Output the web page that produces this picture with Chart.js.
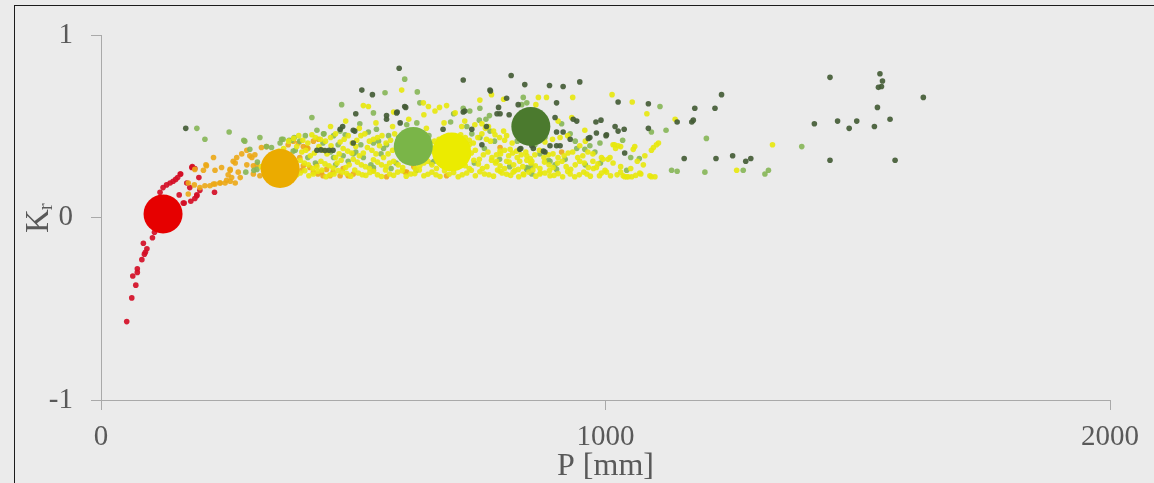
<!DOCTYPE html>
<html>
<head>
<meta charset="utf-8">
<script src="https://cdn.jsdelivr.net/npm/chart.js@4/dist/chart.umd.min.js"></script>
<style>
  html, body { margin: 0; padding: 0; background: #ebebeb; width: 1154px; height: 483px; overflow: hidden; }
  #frame { position: absolute; left: 14px; top: 5px; width: 1200px; height: 520px;
           border-left: 1.5px solid #1c1c1c; border-top: 1.5px solid #1c1c1c; }
  #plot { position: absolute; left: 0; top: 0; }
</style>
</head>
<body>
<div id="frame"></div>
<canvas id="plot" width="1154" height="483"></canvas>
<script>
// Axis ticks
const xTickValues = [0, 1000, 2000];
const xTickLabels = ['0', '1000', '2000'];
const yTickValues = [-1, 0, 1];
const yTickLabels = ['-1', '0', '1'];

// Group means (P [mm], Kr)
const groupNames = ['red', 'orange', 'lightgreen', 'yellow', 'darkgreen'];
const groupMeanP = [123, 355, 619, 695, 852];
const groupMeanK = [0.02, 0.27, 0.39, 0.36, 0.50];

// Individual stations per group: [P, Kr]
const redPoints = [
  [51,-0.57],[61,-0.44],[63,-0.32],[69,-0.37],[72,-0.30],[72,-0.28],[81,-0.23],[86,-0.20],
  [88,-0.19],[84,-0.14],[91,-0.17],[102,-0.11],[106,-0.08],[112,-0.05],[117,0.14],[123,0.165],
  [130,0.18],[137,0.19],[143,0.20],[148,0.21],[158,0.24],[170,0.19],[155,0.125],[165,0.08],
  [178,0.09],[181,0.28],[186,0.105],[190,0.125],[196,0.15],[225,0.14],[176,0.165],[180,0.275],
  [157,0.24],[190,0.12],[163,0.08],[194,0.22],[152,0.22],[186,0.27]
];
const orangePoints = [
  [173,0.13],[185,0.18],[196,0.165],[206,0.175],[216,0.175],[226,0.185],[236,0.19],[246,0.19],
  [256,0.20],[266,0.19],[209,0.285],[223,0.33],[239,0.275],[256,0.265],[262,0.31],[269,0.33],
  [279,0.35],[289,0.37],[259,0.22],[252,0.235],[289,0.29],[299,0.33],[309,0.29],[318,0.385],
  [328,0.39],[394,0.33],[401,0.39],[410,0.38],[421,0.25],[430,0.24],[454,0.23],[474,0.23],
  [490,0.23],[566,0.225],[603,0.25],[315,0.23],[302,0.24],[208,0.29],[266,0.30],[295,0.34],
  [305,0.345],[302,0.285],[256,0.26],[272,0.25],[276,0.22],[249,0.205],[236,0.19],[223,0.185],
  [186,0.265],[203,0.26],[226,0.26],[173,0.19],[398,0.26],[401,0.285],[414,0.275],[427,0.29],
  [437,0.25],[447,0.265],[391,0.41],[408,0.385],[421,0.42],[431,0.43],[381,0.42],[371,0.40],
  [440,0.23],[460,0.25],[480,0.27],[500,0.24],[685,0.23],[791,0.385],[913,0.36],[606,0.25],
  [540,0.26],[620,0.28]
];
const lightGreenPoints = [
  [190,0.49],[206,0.43],[254,0.47],[285,0.42],[315,0.44],[358,0.43],[378,0.425],[394,0.42],
  [309,0.265],[418,0.55],[428,0.48],[442,0.46],[461,0.45],[477,0.62],[563,0.685],[540,0.575],
  [513,0.515],[546,0.485],[627,0.69],[602,0.76],[632,0.63],[693,0.525],[699,0.57],[837,0.66],
  [844,0.63],[834,0.62],[913,0.515],[887,0.315],[751,0.60],[969,0.395],[903,0.265],[943,0.38],
  [847,0.27],[750,0.535],[763,0.54],[770,0.56],[1108,0.61],[1200,0.435],[1091,0.47],[1120,0.48],
  [1067,0.325],[1042,0.26],[1131,0.26],[1142,0.255],[1197,0.25],[1273,0.26],[1316,0.24],[1323,0.26],
  [989,0.41],[1389,0.39],[1034,0.425],[283,0.425],[295,0.375],[310,0.305],[287,0.25],[303,0.26],
  [328,0.39],[338,0.385],[355,0.41],[361,0.43],[373,0.425],[383,0.44],[381,0.365],[441,0.46],
  [474,0.475],[484,0.455],[530,0.47],[550,0.42],[566,0.40],[606,0.51],[626,0.52],[520,0.33],
  [500,0.35],[461,0.33],[540,0.275],[718,0.60],[731,0.585],[725,0.50],[771,0.475],[751,0.44],
  [844,0.265],[854,0.24],[890,0.31],[959,0.375],[979,0.36],[930,0.46],[470,0.40],[560,0.38],
  [600,0.32],[650,0.45],[700,0.33],[740,0.30],[780,0.42],[810,0.28],[860,0.40],[880,0.44],
  [920,0.32],[960,0.29],[505,0.36],[480,0.34],[540,0.41],[590,0.44],[635,0.39],[575,0.27],
  [625,0.26],[854,0.285],[844,0.275],
  [345,0.32],[365,0.28],[385,0.37],[410,0.33],[425,0.30],[455,0.36],[490,0.31],[515,0.40],
  [535,0.29],[555,0.35],[585,0.30],[610,0.35],[660,0.31],[690,0.44],[720,0.35],[760,0.38],
  [790,0.32],[825,0.42],[870,0.35],[900,0.29],[940,0.42],[990,0.30],[1050,0.33],[405,0.45],
  [440,0.41],[465,0.29],[570,0.45],[615,0.47],[655,0.30],[735,0.46]
];
const yellowPoints = [
  [520,0.615],[530,0.61],[596,0.70],[639,0.63],[649,0.61],[662,0.585],[671,0.605],[685,0.615],
  [702,0.575],[721,0.53],[1013,0.675],[1053,0.635],[1082,0.57],[1138,0.54],[935,0.66],[933,0.55],
  [959,0.48],[949,0.395],[1015,0.40],[1025,0.395],[992,0.33],[1005,0.32],[1055,0.375],[1095,0.385],
  [1101,0.40],[1063,0.31],[1070,0.24],[1091,0.225],[1098,0.225],[1042,0.225],[1035,0.23],[988,0.23],
  [1002,0.25],[939,0.225],[976,0.27],[906,0.53],[883,0.66],[867,0.66],[862,0.62],[751,0.645],
  [798,0.65],[774,0.675],[741,0.51],[755,0.515],[768,0.50],[778,0.475],[798,0.475],[804,0.45],
  [791,0.365],[811,0.375],[824,0.365],[844,0.34],[784,0.31],[804,0.31],[830,0.31],[854,0.31],
  [791,0.255],[817,0.25],[837,0.24],[870,0.24],[890,0.23],[930,0.24],[963,0.24],[982,0.275],
  [1020,0.38],[1030,0.39],[1018,0.40],[1058,0.39],[1091,0.37],[1105,0.41],[1078,0.34],[995,0.32],
  [1009,0.33],[999,0.26],[1023,0.235],[1038,0.225],[1045,0.225],[1052,0.225],[1088,0.23],[1260,0.26],
  [1331,0.40],
  [330,0.24],[348,0.23],[362,0.25],[380,0.225],[395,0.245],[412,0.23],[430,0.255],[446,0.225],
  [462,0.24],[478,0.25],[495,0.228],[510,0.245],[525,0.232],[540,0.255],[556,0.226],[572,0.24],
  [588,0.25],[605,0.228],[622,0.242],[640,0.23],[656,0.25],[672,0.226],[690,0.238],[708,0.225],
  [725,0.245],[742,0.23],[760,0.24],[778,0.228],[795,0.245],[812,0.232],[828,0.225],[848,0.25],
  [862,0.228],[880,0.245],[898,0.232],[915,0.225],[948,0.235],[970,0.228],[1010,0.23],[1060,0.232],
  [338,0.252],[355,0.238],[372,0.262],[388,0.236],[404,0.258],[421,0.24],[438,0.262],[454,0.236],
  [470,0.258],[487,0.242],[503,0.262],[518,0.236],[533,0.248],[548,0.236],[564,0.262],[580,0.232],
  [597,0.258],[614,0.24],[631,0.262],[648,0.238],[664,0.236],[681,0.258],[699,0.248],[716,0.236],
  [734,0.26],[751,0.252],[769,0.236],[786,0.262],[804,0.238],[820,0.258],[838,0.236],[856,0.262],
  [871,0.246],[889,0.258],[906,0.242],[925,0.254],[957,0.25],[992,0.245],[1030,0.25],[1068,0.245],
  [318,0.28],[335,0.30],[352,0.27],[370,0.31],[386,0.285],[403,0.30],[420,0.27],[436,0.31],
  [452,0.285],[468,0.30],[485,0.275],[500,0.32],[516,0.29],[532,0.27],[548,0.305],[565,0.28],
  [580,0.31],[598,0.275],[615,0.30],[632,0.285],[648,0.31],[665,0.27],[680,0.30],[698,0.285],
  [714,0.31],[730,0.27],[748,0.295],[765,0.28],[782,0.30],[800,0.27],[818,0.29],[836,0.28],
  [852,0.30],[870,0.27],[888,0.29],[905,0.30],[922,0.28],[940,0.29],[958,0.30],[975,0.31],
  [1030,0.28],[1075,0.29],
  [326,0.295],[343,0.275],[360,0.305],[378,0.27],[395,0.315],[411,0.29],[428,0.28],[444,0.295],
  [460,0.272],[476,0.315],[492,0.29],[508,0.305],[524,0.28],[540,0.318],[556,0.29],[572,0.30],
  [589,0.29],[606,0.315],[623,0.27],[640,0.30],[656,0.29],[673,0.315],[689,0.275],[706,0.295],
  [722,0.285],[739,0.315],[756,0.27],[774,0.315],[791,0.285],[809,0.305],[827,0.265],[844,0.315],
  [861,0.285],[879,0.305],[896,0.275],[914,0.31],[931,0.265],[949,0.31],[966,0.275],[985,0.295],
  [1015,0.30],[1050,0.27],
  [345,0.35],[362,0.38],[378,0.33],[398,0.36],[415,0.34],[432,0.39],[448,0.35],[465,0.33],
  [480,0.38],[497,0.355],[512,0.34],[528,0.385],[545,0.35],[560,0.33],[578,0.37],[595,0.345],
  [612,0.335],[628,0.36],[645,0.33],[660,0.37],[676,0.34],[692,0.325],[710,0.36],[726,0.335],
  [742,0.37],[758,0.345],[775,0.33],[792,0.35],[808,0.34],[825,0.33],[842,0.36],[860,0.345],
  [878,0.33],[896,0.35],[918,0.34],[935,0.36],[955,0.34],[975,0.35],
  [353,0.365],[370,0.345],[388,0.39],[406,0.37],[423,0.355],[440,0.37],[456,0.395],[472,0.35],
  [489,0.365],[505,0.39],[520,0.355],[537,0.37],[552,0.395],[569,0.35],[586,0.385],[603,0.36],
  [620,0.385],[637,0.35],[653,0.39],[668,0.33],[684,0.37],[700,0.35],[718,0.325],[734,0.355],
  [750,0.32],[767,0.36],[784,0.345],[800,0.37],[816,0.355],[833,0.345],[851,0.325],[869,0.37],
  [887,0.345],[906,0.33],[926,0.355],[945,0.33],[965,0.36],
  [372,0.42],[392,0.45],[410,0.41],[425,0.44],[445,0.42],[465,0.46],[482,0.43],[498,0.41],
  [515,0.45],[532,0.42],[548,0.44],[565,0.41],[582,0.46],[598,0.43],[615,0.42],[635,0.44],
  [652,0.41],[670,0.43],[688,0.45],[705,0.42],[722,0.44],[738,0.41],[755,0.46],[772,0.42],
  [790,0.44],[815,0.41],[840,0.45],[865,0.42],[895,0.43],[925,0.45],[960,0.42],
  [382,0.435],[400,0.425],[418,0.455],[435,0.43],[455,0.44],[474,0.415],[490,0.45],[507,0.425],
  [523,0.46],[540,0.43],[557,0.45],[574,0.425],[590,0.41],[606,0.45],[625,0.43],[643,0.455],
  [661,0.42],[679,0.44],[697,0.435],[713,0.455],[730,0.425],[747,0.44],[764,0.43],[781,0.455],
  [800,0.425],[828,0.44],[852,0.43],[880,0.415],[910,0.44],
  [455,0.50],[485,0.53],[512,0.49],[545,0.52],[578,0.50],[610,0.54],[645,0.49],[680,0.52],
  [715,0.50],[762,0.49],[820,0.51],[860,0.50],[580,0.58],[640,0.565],
  [660,0.36],[672,0.40],[685,0.42],[700,0.41],[718,0.38],[728,0.34],[705,0.32],[680,0.33],
  [665,0.35],[690,0.30],[715,0.30],[730,0.40]
];
const darkGreenPoints = [
  [168,0.49],[517,0.70],[538,0.675],[505,0.57],[591,0.82],[602,0.61],[586,0.575],[566,0.56],
  [503,0.475],[474,0.485],[428,0.37],[436,0.372],[444,0.368],[452,0.37],[460,0.37],[718,0.755],
  [587,0.58],[604,0.605],[479,0.50],[500,0.48],[500,0.41],[566,0.54],[718,0.58],[678,0.485],
  [593,0.52],[813,0.78],[840,0.73],[889,0.725],[916,0.72],[949,0.745],[771,0.70],[804,0.655],
  [788,0.605],[785,0.57],[791,0.57],[827,0.62],[903,0.63],[1025,0.635],[1085,0.625],[1230,0.675],
  [1177,0.60],[1217,0.60],[981,0.525],[991,0.535],[1019,0.50],[1025,0.475],[1037,0.485],[1085,0.49],
  [1142,0.525],[1171,0.525],[1174,0.535],[943,0.53],[903,0.47],[916,0.47],[930,0.43],[966,0.435],
  [1002,0.455],[1038,0.355],[1156,0.325],[1219,0.325],[1252,0.34],[1278,0.31],[1288,0.325],[834,0.425],
  [830,0.375],[877,0.365],[903,0.395],[1001,0.45],[1445,0.77],[1544,0.79],[1549,0.75],[1547,0.72],
  [1541,0.715],[1539,0.605],[1630,0.66],[1414,0.515],[1460,0.53],[1483,0.49],[1498,0.53],[1533,0.50],
  [1564,0.54],[1445,0.315],[1574,0.315],[772,0.695],[721,0.585],[764,0.50],[900,0.55],[936,0.54],
  [890,0.395],[910,0.395],[880,0.36],[854,0.395],[857,0.38],[832,0.38],[755,0.40],[735,0.485],
  [809,0.565],[969,0.44],[982,0.465]
];

const smallColors = {
  red: 'rgba(212,14,38,0.92)',
  orange: 'rgba(236,168,22,0.9)',
  lightgreen: 'rgba(134,182,86,0.9)',
  yellow: 'rgba(232,232,12,0.9)',
  darkgreen: 'rgba(68,92,54,0.92)'
};
const bigColors = {
  red: '#e60000',
  orange: '#ebab00',
  lightgreen: '#7ab548',
  yellow: '#ebeb00',
  darkgreen: '#4b7a2e'
};

const toXY = arr => arr.map(p => ({ x: p[0], y: p[1] }));

function smallSet(name, pts, order) {
  return {
    label: name, data: toXY(pts), order: order,
    pointRadius: 2.8, pointHoverRadius: 2.8,
    backgroundColor: smallColors[name], borderColor: smallColors[name], borderWidth: 0
  };
}

const datasets = [];
groupNames.forEach((name, i) => {
  datasets.push({
    label: name + ' mean', data: [{ x: groupMeanP[i], y: groupMeanK[i] }], order: 0,
    pointRadius: 19.5, pointHoverRadius: 19.5,
    backgroundColor: bigColors[name], borderColor: bigColors[name], borderWidth: 0
  });
});
datasets.push(smallSet('darkgreen', darkGreenPoints, 1));
datasets.push(smallSet('lightgreen', lightGreenPoints, 3));
datasets.push(smallSet('yellow', yellowPoints, 2));
datasets.push(smallSet('orange', orangePoints, 4));
datasets.push(smallSet('red', redPoints, 5));

const TXT = '#595959';
const AXIS = '#a9a9a9';
const SERIF = "'Liberation Serif', 'Times New Roman', serif";

// Axis titles: P [mm] below, K with subscript r rotated at left
const axisTitles = {
  id: 'axisTitles',
  afterDraw(chart) {
    const ctx = chart.ctx;
    const area = chart.chartArea;
    ctx.save();
    ctx.fillStyle = TXT;
    ctx.font = '32px ' + SERIF;
    ctx.textAlign = 'center';
    ctx.textBaseline = 'alphabetic';
    ctx.fillText('P [mm]', (area.left + area.right) / 2, 475);
    ctx.restore();

    ctx.save();
    ctx.fillStyle = TXT;
    ctx.translate(48, 233);
    ctx.rotate(-Math.PI / 2);
    ctx.textAlign = 'left';
    ctx.textBaseline = 'alphabetic';
    ctx.font = '33px ' + SERIF;
    ctx.fillText('K', 0, 0);
    const w = ctx.measureText('K').width;
    ctx.font = '21px ' + SERIF;
    ctx.fillText('r', w - 1, 4);
    ctx.restore();
  }
};

new Chart(document.getElementById('plot'), {
  type: 'scatter',
  data: { datasets },
  options: {
    responsive: false,
    maintainAspectRatio: false,
    animation: false,
    events: [],
    layout: { padding: { left: 0, top: 34, right: 44, bottom: 0 } },
    plugins: { legend: { display: false }, tooltip: { enabled: false } },
    scales: {
      x: {
        type: 'linear', min: 0, max: 2000,
        afterBuildTicks: s => { s.ticks = xTickValues.map(v => ({ value: v })); },
        afterFit: s => { s.height = 83; },
        ticks: {
          color: TXT, padding: 10, maxRotation: 0,
          font: { family: SERIF, size: 29 },
          callback: v => xTickLabels[xTickValues.indexOf(v)]
        },
        grid: { drawOnChartArea: false, drawTicks: true, tickLength: 10, color: AXIS, lineWidth: 1 },
        border: { display: true, color: AXIS, width: 1 }
      },
      y: {
        type: 'linear', min: -1, max: 1,
        afterBuildTicks: s => { s.ticks = yTickValues.map(v => ({ value: v })); },
        afterFit: s => { s.width = 101; },
        ticks: {
          color: TXT, padding: 18,
          font: { family: SERIF, size: 29 },
          callback: v => yTickLabels[yTickValues.indexOf(v)]
        },
        grid: { drawOnChartArea: false, drawTicks: true, tickLength: 10, color: AXIS, lineWidth: 1 },
        border: { display: true, color: AXIS, width: 1 }
      }
    }
  },
  plugins: [axisTitles]
});
</script>
</body>
</html>
